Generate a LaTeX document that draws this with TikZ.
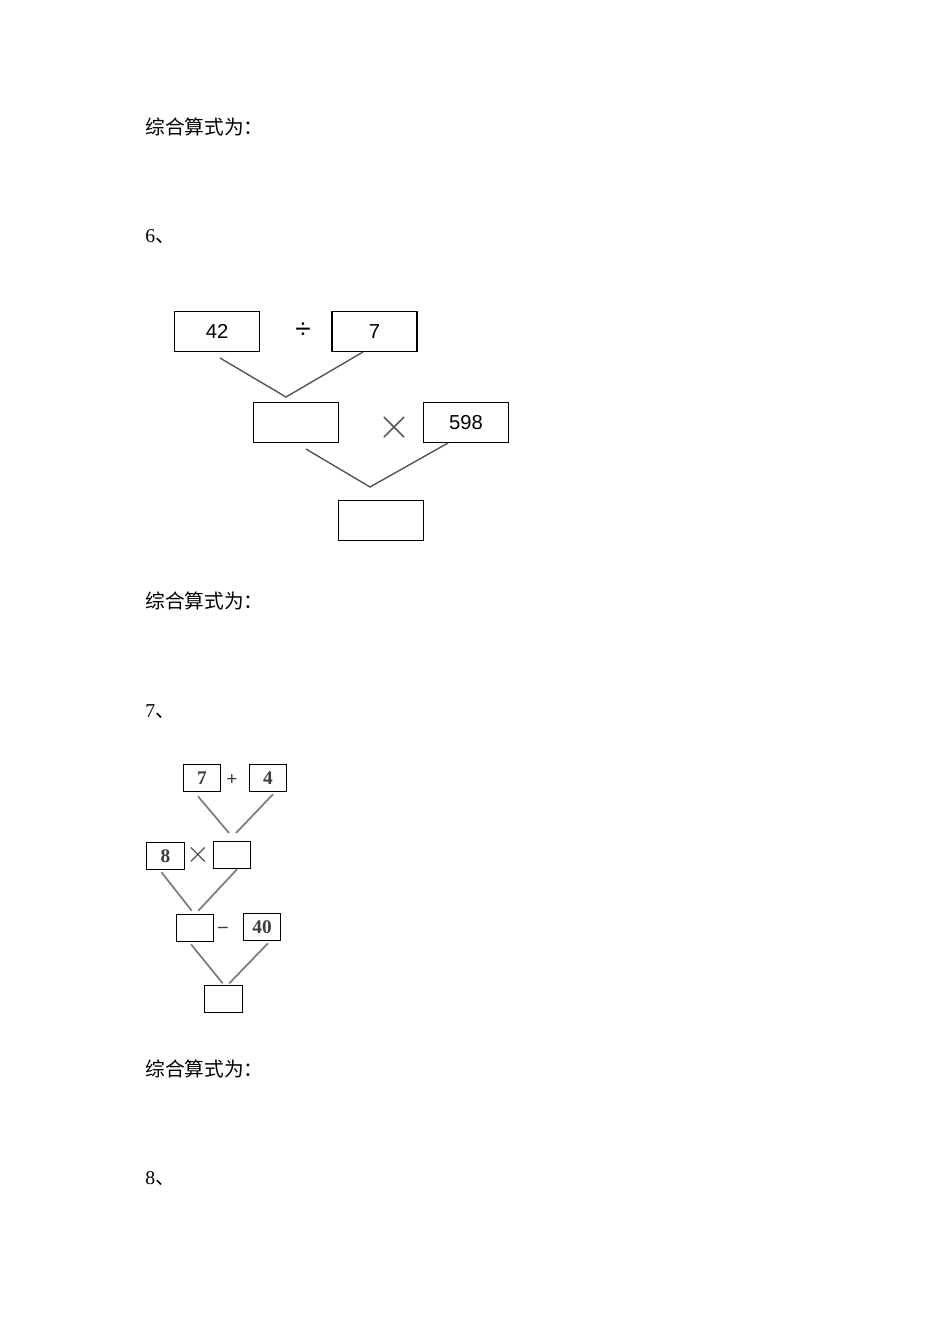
\documentclass[tikz,border=0pt]{standalone}
\usepackage{fontspec}
\setmainfont{Liberation Serif}
\newfontfamily\cjk{Noto Sans CJK SC}
\newfontfamily\arialfont{Liberation Sans}
\usetikzlibrary{positioning}
\definecolor{linegray}{RGB}{85,85,85}
\definecolor{lightgray}{RGB}{125,125,125}
\definecolor{numgray}{RGB}{60,60,60}
\tikzset{
  bigbox/.style={draw, line width=0.6pt, inner sep=0pt, minimum width=1.7cm, minimum height=0.8cm, font=\arialfont\fontsize{11.5}{12}\selectfont},
  smallbox/.style={draw, line width=0.6pt, inner sep=0pt, minimum width=0.75cm, minimum height=0.55cm, font=\bfseries\fontsize{11}{12}\selectfont, text=numgray},
  joinline/.style={line width=0.8pt, linegray},
  thinjoin/.style={line width=1pt, lightgray},
  qtext/.style={anchor=west, inner sep=0pt, font=\cjk\fontsize{11.2}{13}\selectfont}
}

\begin{document}
\begin{tikzpicture}[x=0.02cm, y=-0.02cm]
\useasboundingbox (0,0) rectangle (950,1344);

% questions text
\node[qtext] (q5) at (145,127) {综合算式为：};
\node[qtext] (t6) at (145,237) {{\rmfamily 6}、};
\node[qtext] (q6) at (145,601) {综合算式为：};
\node[qtext] (t7) at (145,712) {{\rmfamily 7}、};
\node[qtext] (q7) at (145,1069) {综合算式为：};
\node[qtext] (t8) at (145,1178) {{\rmfamily 8}、};

% tree of question 6
\node[bigbox] (n42) at (217,331.5) {42};
\node[font=\arialfont\fontsize{16}{16}\selectfont] (div6) at (303,331) {÷};
\node[bigbox] (n7) at (374.5,331.5) {7};
\node[bigbox] (mid6) at (296,422.5) {};
\node[font=\fontsize{30}{30}\selectfont, text=linegray] (times6) at (394,428) {$\times$};
\node[bigbox] (n598) at (466,422.5) {598};
\node[bigbox] (bot6) at (381,520.5) {};

\coordinate (j6a) at (286,397);
\coordinate (j6b) at (370,487);
\draw[joinline] ([xshift=0.06cm, yshift=-0.12cm]n42.south) -- (j6a) -- ([xshift=-0.23cm]n7.south);
\draw[joinline] ([xshift=0.2cm, yshift=-0.12cm]mid6.south) -- (j6b) -- ([xshift=-0.36cm]n598.south);

% tree of question 7
\node[smallbox] (b7) at (202,778) {7};
\node[font=\bfseries\fontsize{11}{11}\selectfont, text=numgray] (plus7) at (232,780) {+};
\node[smallbox] (b4) at (268,778) {4};
\node[smallbox] (b8) at (165.5,856) {8};
\node[font=\fontsize{17}{17}\selectfont, text=numgray] (times7) at (198,855) {$\times$};
\node[smallbox] (e7a) at (232,855) {};
\node[smallbox] (e7b) at (195,928) {};
\node[font=\bfseries\fontsize{11}{11}\selectfont, text=numgray] (minus7) at (223,930) {–};
\node[smallbox] (b40) at (262,927) {40};
\node[smallbox] (e7c) at (223.7,999) {};

\coordinate (j7a) at (229,833);
\coordinate (j7b) at (236,833);
\coordinate (j7c) at (191.7,910.7);
\coordinate (j7d) at (198.3,910.7);
\coordinate (j7e) at (222.7,983.3);
\coordinate (j7f) at (229.3,983.3);
\draw[thinjoin] ([xshift=-0.08cm, yshift=-0.08cm]b7.south) -- (j7a);
\draw[thinjoin] ([xshift=0.1cm, yshift=-0.04cm]b4.south) -- (j7b);
\draw[thinjoin] ([xshift=-0.08cm, yshift=-0.04cm]b8.south) -- (j7c);
\draw[thinjoin] ([xshift=0.1cm]e7a.south) -- (j7d);
\draw[thinjoin] ([xshift=-0.08cm, yshift=-0.04cm]e7b.south) -- (j7e);
\draw[thinjoin] ([xshift=0.12cm, yshift=-0.04cm]b40.south) -- (j7f);
\end{tikzpicture}
\end{document}
